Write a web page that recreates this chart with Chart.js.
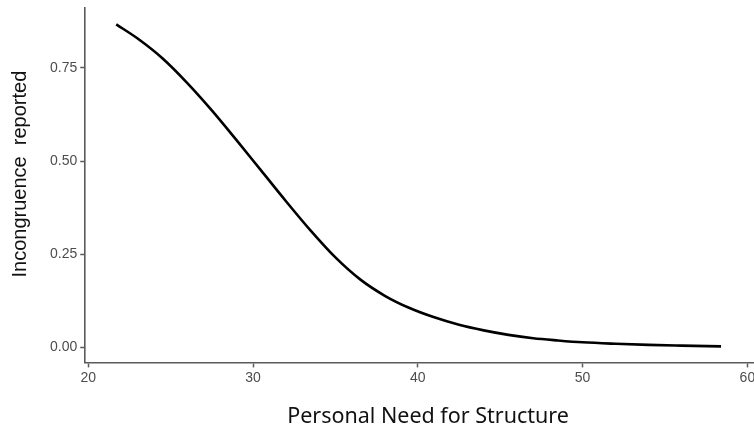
<!DOCTYPE html>
<html>
<head>
<meta charset="utf-8">
<script src="https://cdn.jsdelivr.net/npm/chart.js@4/dist/chart.umd.min.js"></script>
<style>
  html, body { margin: 0; padding: 0; background: #ffffff; overflow: hidden; }
  #wrap { width: 780px; height: 428px; }
</style>
</head>
<body>
<div id="wrap"><canvas id="c" width="780" height="428"></canvas></div>
<script>
// Predicted probability of reporting incongruence across Personal Need for Structure
const needForStructure = [21.7, 23, 24.5, 26, 27.5, 29, 30.5, 32, 33.5, 35, 36.5, 38, 39.5, 41, 42.5, 44, 45.5, 47, 48.5, 50, 52, 54, 56, 58.4];
const incongruence = [0.867, 0.829, 0.776, 0.710, 0.636, 0.556, 0.474, 0.392, 0.313, 0.241, 0.182, 0.138, 0.105, 0.080, 0.060, 0.045, 0.033, 0.024, 0.018, 0.013, 0.009, 0.006, 0.004, 0.002];

const xTicks = [20, 30, 40, 50, 60];
const yTicks = [0, 0.25, 0.5, 0.75];

// leading spaces nudge the axis titles off the plot-area centre
const xTitle = '   Personal Need for Structure';
const yTitle = '    Incongruence  reported';

const points = needForStructure.map((x, i) => ({ x: x, y: incongruence[i] }));

const axisGrey = '#5a5a5a';
const tickFont = { family: 'Liberation Sans, Arial, sans-serif', size: 14 };

new Chart(document.getElementById('c'), {
  type: 'line',
  data: {
    datasets: [{
      data: points,
      borderColor: '#000000',
      borderWidth: 2.6,
      pointRadius: 0,
      fill: false,
      cubicInterpolationMode: 'monotone'
    }]
  },
  options: {
    responsive: false,
    devicePixelRatio: 1,
    animation: false,
    layout: { padding: { top: 8, right: 26, bottom: 0, left: 8 } },
    plugins: { legend: { display: false }, tooltip: { enabled: false } },
    scales: {
      x: {
        type: 'linear',
        min: 19.82,
        max: 60.4,
        afterBuildTicks: (scale) => { scale.ticks = xTicks.map(v => ({ value: v })); },
        ticks: {
          color: '#4d4d4d',
          font: tickFont,
          padding: 2,
          maxRotation: 0,
          callback: (v) => String(v)
        },
        grid: { display: true, drawOnChartArea: false, drawTicks: true, tickLength: 5, tickColor: axisGrey, tickWidth: 1.5 },
        border: { display: true, color: axisGrey, width: 1.6 },
        title: {
          display: true,
          text: xTitle,
          color: '#111111',
          font: { family: 'Noto Sans, Open Sans, sans-serif', size: 21.5 },
          padding: { top: 16, bottom: -2 }
        }
      },
      y: {
        type: 'linear',
        min: -0.041,
        max: 0.911,
        afterBuildTicks: (scale) => { scale.ticks = yTicks.map(v => ({ value: v })); },
        afterFit: (scale) => { scale.paddingTop = 0; scale.paddingBottom = 0; },
        ticks: {
          color: '#4d4d4d',
          font: tickFont,
          padding: 3,
          callback: (v) => Number(v).toFixed(2)
        },
        grid: { display: true, drawOnChartArea: false, drawTicks: true, tickLength: 5, tickColor: axisGrey, tickWidth: 1.5 },
        border: { display: true, color: axisGrey, width: 1.6 },
        title: {
          display: true,
          text: yTitle,
          color: '#111111',
          font: { family: 'Liberation Sans, Arial, sans-serif', size: 20 },
          padding: { top: 0, bottom: 15 }
        }
      }
    }
  }
});
</script>
</body>
</html>
